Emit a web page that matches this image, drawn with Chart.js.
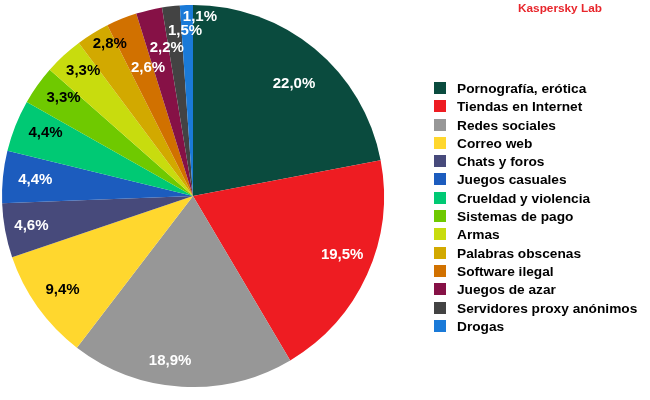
<!DOCTYPE html>
<html>
<head>
<meta charset="utf-8">
<script src="https://cdn.jsdelivr.net/npm/chart.js@4/dist/chart.umd.min.js"></script>
<style>
  body { margin: 0; background: #fff; font-family: "Liberation Sans", Arial, sans-serif; }
  #wrap { position: relative; width: 650px; height: 400px; }
  #brand { position: absolute; left: 518px; top: 1px; color: #e8262c; font-weight: bold; font-size: 11.8px; }
  #legend { position: absolute; left: 434px; top: 80px; margin: 0; padding: 0; list-style: none; }
  #legend li { height: 18.3px; line-height: 18px; font-size: 13.7px; font-weight: bold; color: #000; white-space: nowrap; }
  #legend span { display: inline-block; width: 12px; height: 12px; margin-right: 11px; vertical-align: -1px; }
</style>
</head>
<body>
<div id="wrap">
  <canvas id="myChart" width="650" height="400"></canvas>
  <div id="brand">Kaspersky Lab</div>
  <ul id="legend"></ul>
</div>
<script>
// categories and shares (%)
var categories = ['Pornografía, erótica', 'Tiendas en Internet', 'Redes sociales', 'Correo web',
  'Chats y foros', 'Juegos casuales', 'Crueldad y violencia', 'Sistemas de pago', 'Armas',
  'Palabras obscenas', 'Software ilegal', 'Juegos de azar', 'Servidores proxy anónimos', 'Drogas'];
var shares = [22.0, 19.5, 18.9, 9.4, 4.6, 4.4, 4.4, 3.3, 3.3, 2.8, 2.6, 2.2, 1.5, 1.1];

// styling
var colors = ['#0a4b3e', '#ee1c22', '#979797', '#ffd72e', '#474a7b', '#1c5cbe', '#00c974',
  '#6fc900', '#c8dc0e', '#d2a900', '#d17100', '#861146', '#434343', '#1a7ad8'];
var labelColors = ['#fff', '#fff', '#fff', '#000', '#fff', '#fff', '#000',
  '#000', '#000', '#000', '#fff', '#fff', '#fff', '#fff'];
// where each value label sits: share of radius, and a small turn (degrees) off the slice middle
var labelRadius = [0.79, 0.84, 0.87, 0.84, 0.86, 0.83, 0.84, 0.85, 0.87, 0.91, 0.71, 0.79, 0.865, 0.94];
var labelTurn = [2.4, -2.7, 4.5, 0, 0, 0, 1.6, 1.7, 1.3, 3.1, 2.6, 3.3, 3.9, 4.2];

// legend as html
var ul = document.getElementById('legend');
categories.forEach(function (c, i) {
  var li = document.createElement('li');
  li.innerHTML = '<span style="background:' + colors[i] + '"></span>' + c;
  ul.appendChild(li);
});

// value labels on slices
var sliceLabels = {
  id: 'sliceLabels',
  afterDatasetsDraw: function (chart) {
    var ctx = chart.ctx;
    var meta = chart.getDatasetMeta(0);
    ctx.save();
    ctx.font = 'bold 15px "Liberation Sans", Arial, sans-serif';
    ctx.textAlign = 'center';
    ctx.textBaseline = 'middle';
    meta.data.forEach(function (arc, i) {
      var a = (arc.startAngle + arc.endAngle) / 2 + labelTurn[i] * Math.PI / 180;
      var r = arc.outerRadius * labelRadius[i];
      ctx.fillStyle = labelColors[i];
      ctx.fillText(shares[i].toFixed(1).replace('.', ',') + '%', arc.x + Math.cos(a) * r, arc.y + Math.sin(a) * r);
    });
    ctx.restore();
  }
};

var ctx = document.getElementById('myChart');
var myChart = new Chart(ctx, {
  type: 'pie',
  data: {
    labels: categories,
    datasets: [{
      data: shares,
      backgroundColor: colors,
      borderWidth: 0
    }]
  },
  options: {
    responsive: false,
    animation: false,
    layout: { padding: { left: 2, right: 266, top: 4, bottom: 12 } },
    plugins: {
      legend: { display: false },
      tooltip: { enabled: false }
    }
  },
  plugins: [sliceLabels]
});
</script>
</body>
</html>
